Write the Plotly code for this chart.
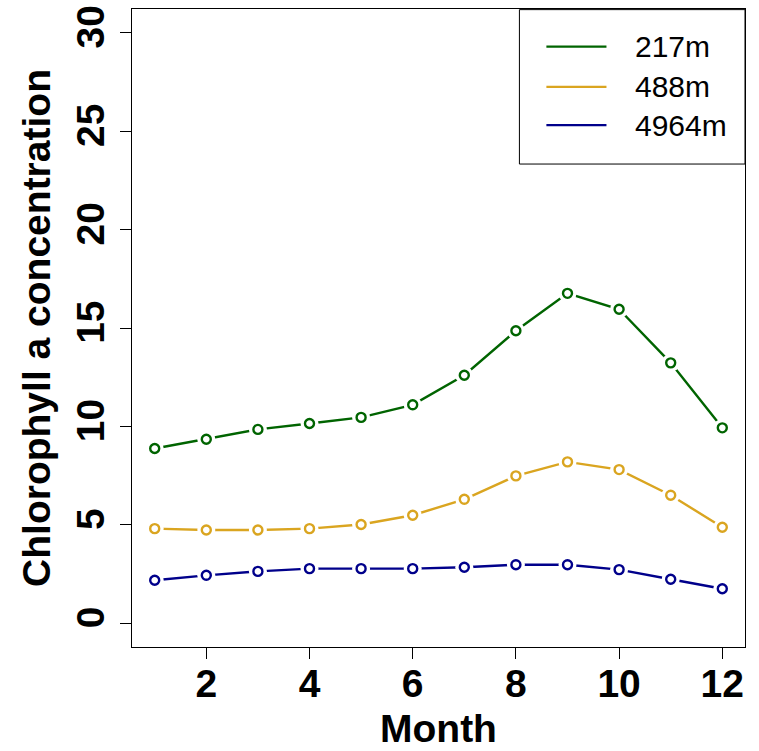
import plotly.graph_objects as go

# Monthly mean chlorophyll a at three station depths
months = list(range(1, 13))
series_names = ["217m", "488m", "4964m"]
chl_217 = [8.88, 9.35, 9.85, 10.15, 10.46, 11.10, 12.60, 14.86, 16.76, 15.95, 13.23, 9.93]
chl_488 = [4.81, 4.74, 4.74, 4.81, 5.02, 5.49, 6.30, 7.49, 8.20, 7.81, 6.51, 4.88]
chl_4964 = [2.19, 2.44, 2.64, 2.78, 2.78, 2.78, 2.85, 2.98, 2.98, 2.73, 2.24, 1.76]
series_values = [chl_217, chl_488, chl_4964]
colors = ["#006400", "#DAA520", "#00008B"]

x_ticks = [2, 4, 6, 8, 10, 12]
y_ticks = [0, 5, 10, 15, 20, 25, 30]

fig = go.Figure()

for name, vals, col in zip(series_names, series_values, colors):
    # connecting line
    fig.add_trace(go.Scatter(x=months, y=vals, mode="lines", name=name,
                             line=dict(color=col, width=2.4),
                             showlegend=False, hoverinfo="skip"))
    # white discs break the line around each point
    fig.add_trace(go.Scatter(x=months, y=vals, mode="markers",
                             marker=dict(color="white", size=18, line=dict(width=0)),
                             showlegend=False, hoverinfo="skip"))
    # open circle points
    fig.add_trace(go.Scatter(x=months, y=vals, mode="markers", name=name,
                             marker=dict(symbol="circle-open", color=col, size=9,
                                         line=dict(color=col, width=2.4)),
                             showlegend=False))

axis_font = dict(family="Liberation Sans, Arial, sans-serif", size=39, color="black")

fig.update_xaxes(range=[0.56, 12.44], tickvals=x_ticks,
                 ticktext=[f"<b>{v}</b>" for v in x_ticks],
                 showgrid=False, zeroline=False, showline=True, linecolor="black",
                 linewidth=1, mirror=True, ticks="outside", ticklen=11, tickwidth=1,
                 tickcolor="black", tickfont=axis_font, automargin=False,
                 ticklabelstandoff=-9)
fig.update_yaxes(range=[-1.2, 31.2], tickvals=y_ticks,
                 ticktext=[f"<b>{v}</b>" for v in y_ticks],
                 tickangle=-90, showgrid=False, zeroline=False, showline=True,
                 linecolor="black", linewidth=1, mirror=True, ticks="outside",
                 ticklen=11, tickwidth=1, tickcolor="black", tickfont=axis_font,
                 automargin=False,
                 title=dict(text="<b>Chlorophyll a concentration</b>", font=axis_font,
                            standoff=6))

annotations = [dict(xref="paper", yref="paper", x=0.5, y=-0.127, text="<b>Month</b>",
                    showarrow=False, xanchor="center", yanchor="middle", font=axis_font)]

# legend box drawn in paper coordinates
x0, x1 = 0.632, 1.0
y0, y1 = 0.757, 0.999
shapes = [dict(type="rect", xref="paper", yref="paper", x0=x0, x1=x1, y0=y0, y1=y1,
               line=dict(color="black", width=1), fillcolor="white", layer="above")]
row_y = [0.941, 0.878, 0.818]
for name, col, ry in zip(series_names, colors, row_y):
    shapes.append(dict(type="line", xref="paper", yref="paper", x0=0.676, x1=0.774,
                       y0=ry, y1=ry, line=dict(color=col, width=2.4), layer="above"))
    annotations.append(dict(xref="paper", yref="paper", x=0.818, y=ry, text=name,
                            showarrow=False, xanchor="left", yanchor="middle",
                            font=dict(family="Liberation Sans, Arial, sans-serif",
                                      size=30, color="black")))

fig.update_layout(width=759, height=751,
                  margin=dict(l=132, r=14, t=9, b=104),
                  paper_bgcolor="white", plot_bgcolor="white",
                  shapes=shapes, annotations=annotations, showlegend=False,
                  font=dict(family="Liberation Sans, Arial, sans-serif"))

fig.write_html("out.html")
